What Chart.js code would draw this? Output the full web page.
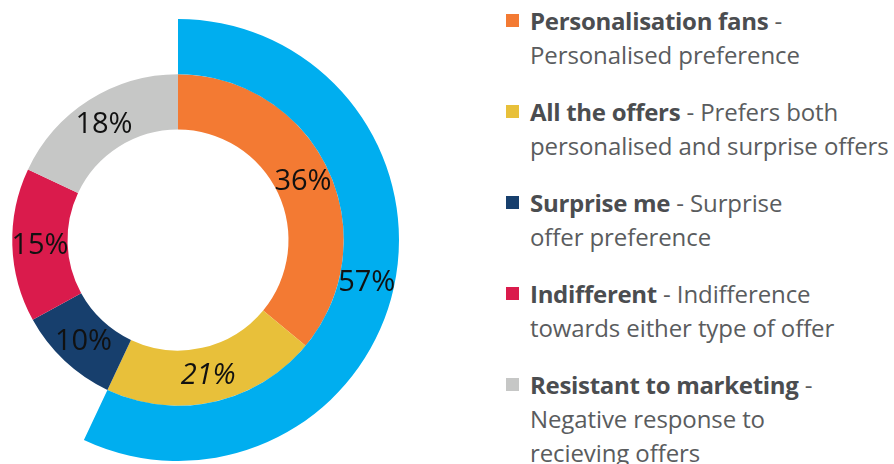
<!DOCTYPE html>
<html>
<head>
<meta charset="utf-8">
<script src="https://cdn.jsdelivr.net/npm/chart.js@4/dist/chart.umd.min.js"></script>
<style>
    html, body { margin: 0; padding: 0; background: #fff; overflow: hidden; }
    body { width: 894px; height: 464px; position: relative; font-family: "Open Sans", sans-serif; }
    #chartBox { position: absolute; left: -43px; top: 19px; width: 442px; height: 442px; }
    #legend { position: absolute; left: 506px; top: 4px; }
    .item { position: relative; padding-left: 24px; margin-bottom: 23px; font-size: 24px; line-height: 34px; color: #5a5c5e; white-space: pre; letter-spacing: -0.1px; }
    .item b { color: #4b4d50; font-weight: 700; letter-spacing: -0.3px; }
    .swatch { position: absolute; left: 0; top: 10px; width: 13px; height: 13px; }
</style>
</head>
<body>
<div id="chartBox"><canvas id="segChart"></canvas></div>
<div id="legend"></div>

<script>
// Segmentos (anel interno)
const segments = ['Personalisation fans', 'All the offers', 'Surprise me', 'Indifferent', 'Resistant to marketing'];
const segmentValues = [36, 21, 10, 15, 18];
const segmentColors = ['#f37a33', '#e8c03a', '#173f6d', '#da1b4c', '#c6c7c6'];

// Anel externo: quem prefere ofertas personalizadas (57%)
const outerValues = [57, 43];
const outerColors = ['#00aeef', 'rgba(0,0,0,0)'];

const descriptions = [
    ' -\nPersonalised preference',
    ' - Prefers both\npersonalised and surprise offers',
    ' - Surprise\noffer preference',
    ' - Indifference\ntowards either type of offer',
    ' -\nNegative response to\nrecieving offers'
];

// Rótulos de percentagem no centro de cada fatia
const sliceLabels = {
    id: 'sliceLabels',
    afterDatasetsDraw(chart) {
        const ctx = chart.ctx;
        ctx.save();
        ctx.fillStyle = '#111';
        ctx.textAlign = 'center';
        ctx.textBaseline = 'middle';
        chart.data.datasets.forEach((ds, di) => {
            const meta = chart.getDatasetMeta(di);
            meta.data.forEach((arc, i) => {
                if (ds.backgroundColor[i] === 'rgba(0,0,0,0)') return;
                const pos = arc.tooltipPosition();
                const italic = ds.italicIndex === i ? 'italic ' : '';
                ctx.font = italic + '29px "Open Sans", sans-serif';
                ctx.fillText(ds.data[i] + '%', pos.x, pos.y + 1);
            });
        });
        ctx.restore();
    }
};

new Chart(document.getElementById('segChart').getContext('2d'), {
    type: 'doughnut',
    data: {
        labels: segments,
        datasets: [
            {
                data: outerValues,
                backgroundColor: outerColors,
                borderWidth: 0,
                hoverOffset: 0
            },
            {
                data: segmentValues,
                backgroundColor: segmentColors,
                borderWidth: 0,
                hoverOffset: 0,
                italicIndex: 1
            }
        ]
    },
    options: {
        responsive: true,
        maintainAspectRatio: false,
        animation: false,
        cutout: '50%',
        layout: { padding: 0 },
        plugins: { legend: { display: false }, tooltip: { enabled: false } }
    },
    plugins: [sliceLabels]
});

// Legenda em HTML (texto com partes a negrito)
const legend = document.getElementById('legend');
segments.forEach((name, i) => {
    const item = document.createElement('div');
    item.className = 'item';
    const sw = document.createElement('span');
    sw.className = 'swatch';
    sw.style.background = segmentColors[i];
    item.appendChild(sw);
    const b = document.createElement('b');
    b.textContent = name;
    item.appendChild(b);
    item.appendChild(document.createTextNode(descriptions[i]));
    legend.appendChild(item);
});
</script>
</body>
</html>
